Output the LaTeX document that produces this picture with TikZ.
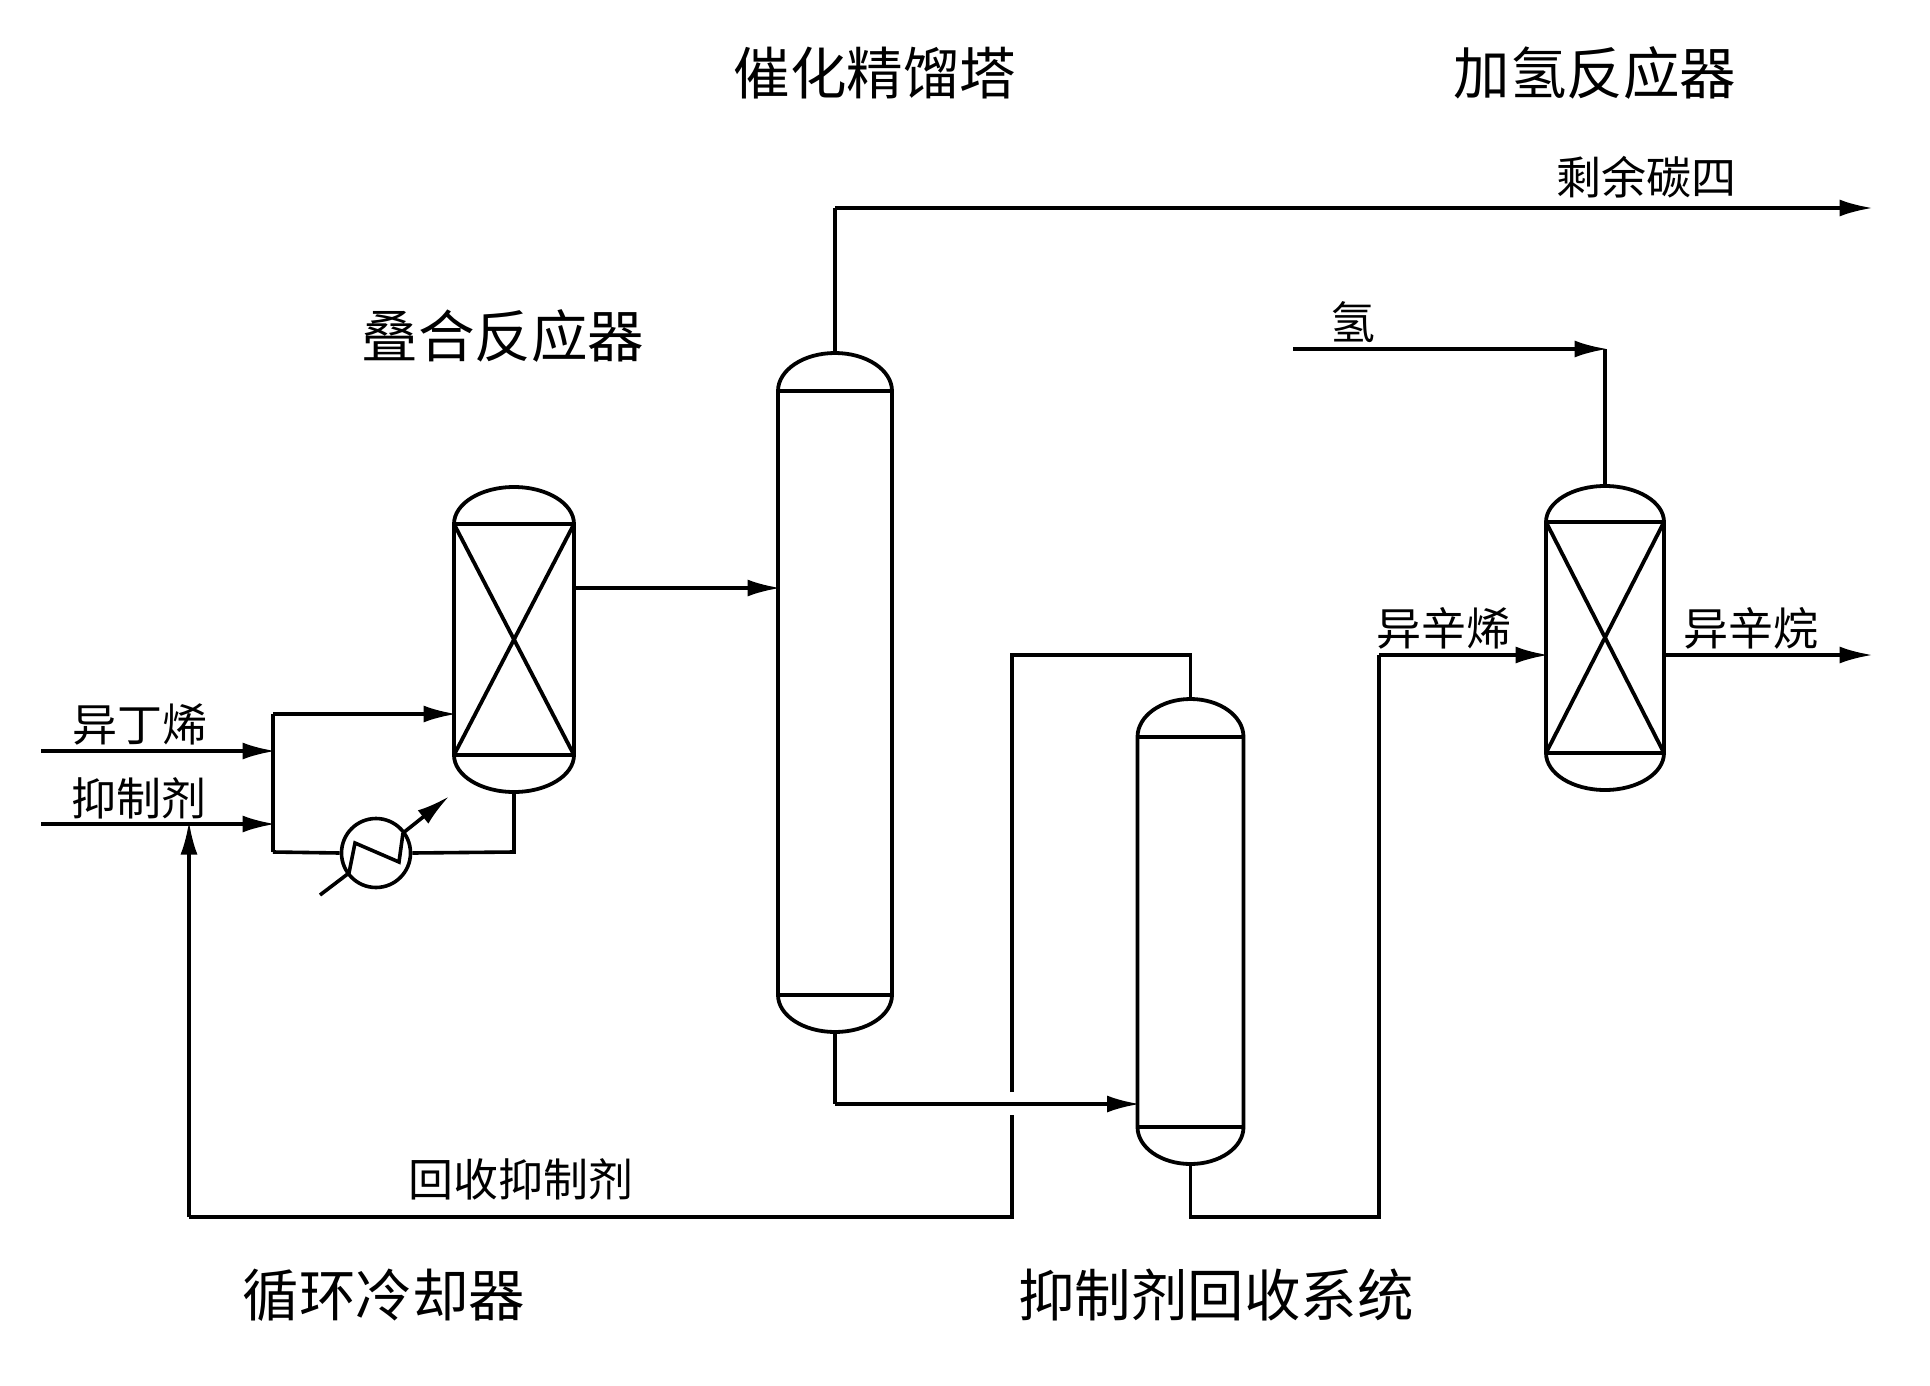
\documentclass[tikz,border=0pt]{standalone}
\usepackage{fontspec}
\setmainfont{Noto Sans CJK SC}
\usetikzlibrary{arrows.meta,calc}
\tikzset{
  pipe/.style={line width=3.6pt,line join=miter,black},
  flow/.style={pipe,-{Latex[length=33pt,width=17pt]},shorten >=-2.5pt},
  wall/.style={line width=3.8pt,black},
  big/.style={font=\fontsize{56.5}{60}\selectfont,inner sep=0pt},
  small/.style={font=\fontsize{45}{48}\selectfont,inner sep=0pt},
  hull/.style={inner sep=0pt,outer sep=0pt,draw=none}
}
% name, cx, top, tan1, tan2, bottom, half width
\newcommand{\vesselbody}[7]{%
  \node[hull,minimum width=#7*2pt,minimum height=(#6-#3)*1pt] (#1) at (#2,{(#3+#6)/2}) {};
  \draw[wall] ({#2-#7},#4) arc[start angle=180,end angle=0,x radius=#7 pt,y radius=(#4-#3)*1pt]
     -- ({#2+#7},#5) arc[start angle=0,end angle=-180,x radius=#7 pt,y radius=(#6-#5)*1pt] -- cycle;
  \draw[wall] ({#2-#7},#4) -- ({#2+#7},#4);
  \draw[wall] ({#2-#7},#5) -- ({#2+#7},#5);
}
\newcommand{\vesselcross}[5]{%
  \draw[wall] ({#1-#4},#2) -- ({#1+#4},#3);
  \draw[wall] ({#1+#4},#2) -- ({#1-#4},#3);
}
\begin{document}
\begin{tikzpicture}[x=1pt,y=-1pt]
\useasboundingbox (0,0) rectangle (1930,1386);

% vessels
\vesselbody{rone}{514}{487}{524}{755}{792}{60}
\vesselcross{514}{524}{755}{60}{}
\vesselbody{cone}{835}{353}{391}{995}{1032}{57}
\vesselbody{ctwo}{1190.5}{699}{737}{1127}{1164}{53}
\vesselbody{rtwo}{1605}{486}{522}{753}{790}{59}
\vesselcross{1605}{522}{753}{59}{}

% exchanger
\node[circle,draw,line width=3.6pt,minimum size=69pt,inner sep=0pt] (hx) at (376,853) {};

% free ends and bends
\coordinate (ibin) at (41,751);
\coordinate (inhin) at (41,824);
\coordinate (bustop) at (273,714);
\coordinate (busiso) at (273,751);
\coordinate (businh) at (273,824);
\coordinate (busbot) at (273,852);
\coordinate (ronebot) at (514,852);
\coordinate (recyc) at (189,1217);
\coordinate (recyctip) at (189,824);
\coordinate (gapright) at (1012,1217);
\coordinate (gaplow) at (1012,1115);
\coordinate (gapup) at (1012,1092);
\coordinate (gaptop) at (1012,655);
\coordinate (topbend) at (1190.5,655);
\coordinate (cobot) at (835,1104);
\coordinate (ctbot) at (1190.5,1217);
\coordinate (ctright) at (1379,1217);
\coordinate (ctup) at (1379,655);
\coordinate (ovh) at (835,208);
\coordinate (ovend) at (1870,208);
\coordinate (hin) at (1293,349);
\coordinate (hbend) at (1605,349);
\coordinate (outend) at (1870,655);

% main connectors
\draw[flow] (ibin) -- (busiso);
\draw[flow] (inhin) -- (businh);
\draw[pipe] (busbot) -- (bustop);
\draw[flow] (bustop) -- (rone.west |- bustop);
\draw[pipe] (busbot) -- (hx.west);
\draw[pipe] (hx.east) -- (ronebot) -- (rone.south);
\draw[flow] (rone.east |- 0,588) -- (cone.west |- 0,588);
\draw[pipe] (cone.north) -- (ovh);
\draw[flow] (ovh) -- (ovend);
\draw[pipe] (cone.south) -- (cobot);
\draw[flow] (cobot) -- (ctwo.west |- cobot);
\draw[pipe] (ctwo.south) -- (ctbot) -- (ctright) -- (ctup);
\draw[flow] (ctup) -- (rtwo.west |- ctup);
\draw[flow] (rtwo.east |- ctup) -- (outend);
\draw[pipe] (rtwo.north) -- (hbend);
\draw[flow] (hin) -- (hbend);
\draw[pipe] (gaplow) -- (gapright) -- (recyc);
\draw[flow] (recyc) -- (recyctip);
\draw[pipe] (gapup) -- (gaptop) -- (topbend) -- (ctwo.north);

% exchanger tube
\coordinate (zlow) at (320,895);
\coordinate (za) at (349,873);
\coordinate (zb) at (355,843);
\coordinate (zc) at (399,862);
\coordinate (zd) at (403,833);
\coordinate (ztip) at (447,798);
\draw[pipe] (zlow) -- (za) -- (zb) -- (zc) -- (zd);
\draw[flow] (zd) -- (ztip);

% labels
\node[big] (t1) at (875,73) {催化精馏塔};
\node[big] (t2) at (1595,73) {加氢反应器};
\node[big] (t3) at (503,336) {叠合反应器};
\node[big] (t4) at (384,1295) {循环冷却器};
\node[big] (t5) at (1216,1295) {抑制剂回收系统};
\node[small] (l1) at (1646,177) {剩余碳四};
\node[small] (l2) at (1353,322) {氢};
\node[small] (l3) at (140,724) {异丁烯};
\node[small] (l4) at (139,798) {抑制剂};
\node[small] (l5) at (521,1179) {回收抑制剂};
\node[small] (l6) at (1444,628) {异辛烯};
\node[small] (l7) at (1751,628) {异辛烷};
\end{tikzpicture}
\end{document}
